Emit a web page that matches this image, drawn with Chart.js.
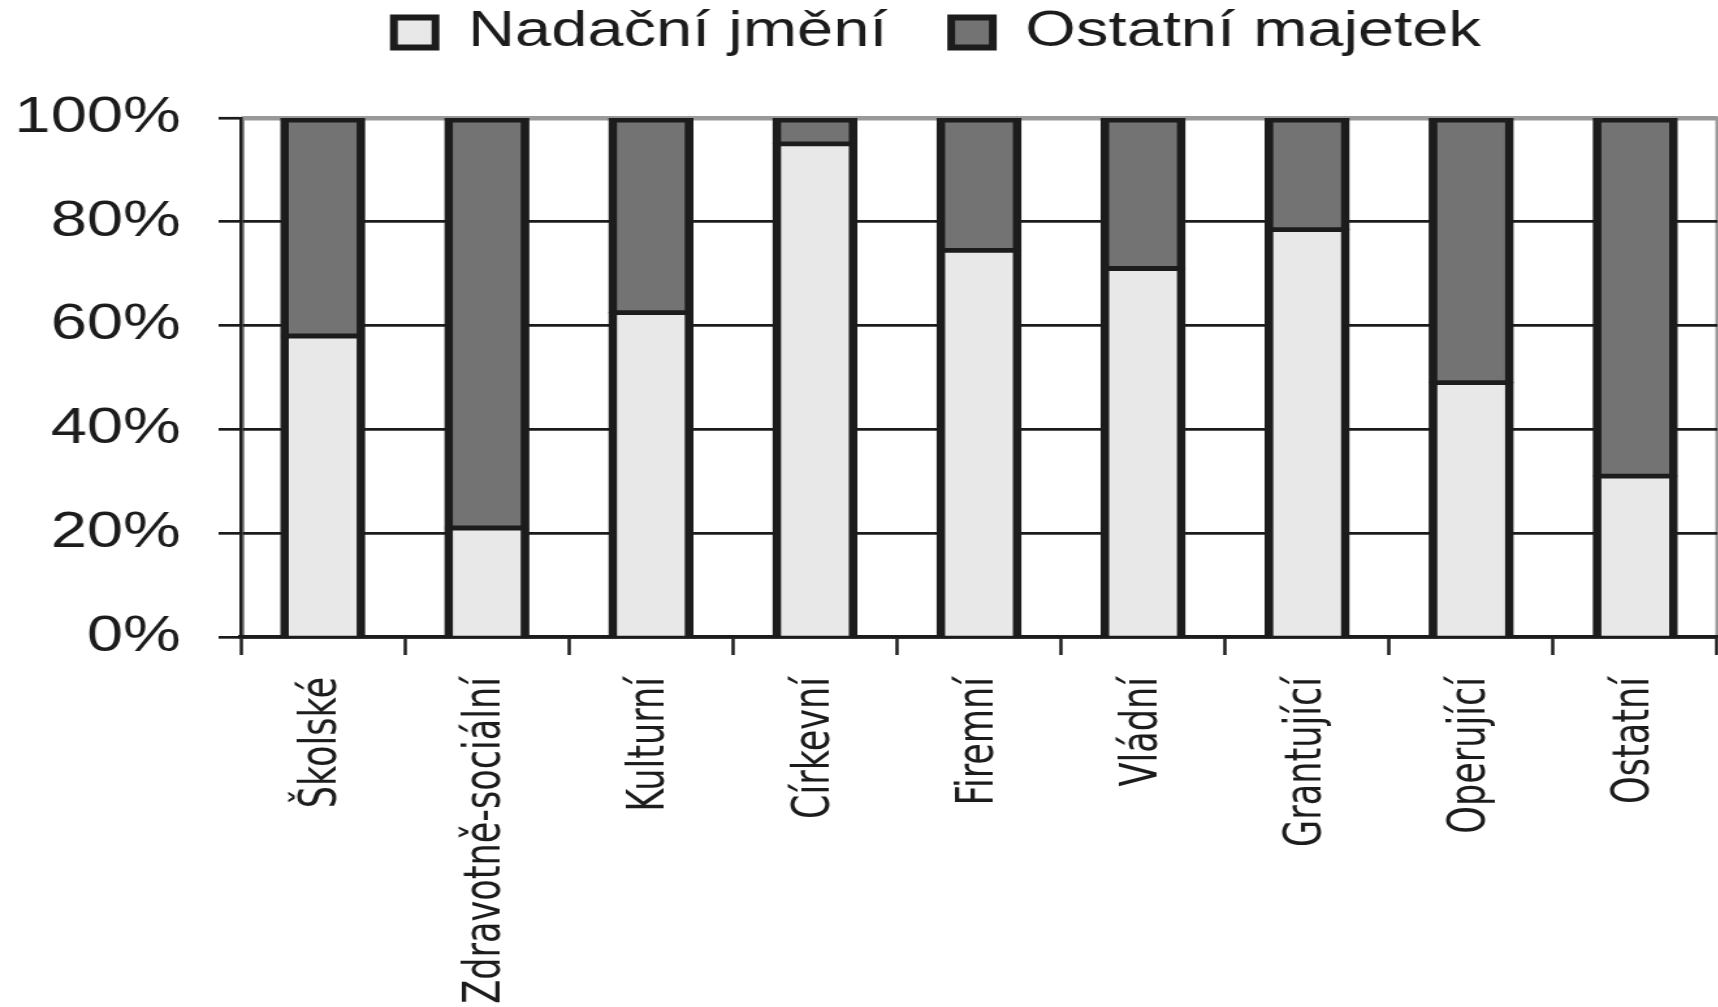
<!DOCTYPE html>
<html lang="cs">
<head>
<meta charset="utf-8">
<title>Nadační jmění a ostatní majetek</title>
<script src="https://cdn.jsdelivr.net/npm/chart.js@4.4.1/dist/chart.umd.min.js"></script>
<style>
  html, body { margin: 0; padding: 0; background: #fff; overflow: hidden; }
  /* the original image is stretched horizontally, so the chart is drawn narrower and scaled out */
  #wrap {
    position: absolute; left: 0; top: 0;
    height: 1007px;
    transform-origin: 0 0;
  }
</style>
</head>
<body>
<div id="wrap"><canvas id="assets-chart"></canvas></div>
<script>
const STRETCH = 1.3;

const categories = [
  "Školské", "Zdravotně-sociální", "Kulturní", "Církevní", "Firemní",
  "Vládní", "Grantující", "Operující", "Ostatní",
];
const endowment = [58, 21, 62.5, 95, 74.5, 71, 78.5, 49, 31];      // Nadační jmění
const otherAssets = [42, 79, 37.5, 5, 25.5, 29, 21.5, 51, 69];     // Ostatní majetek
const yTicks = [0, 20, 40, 60, 80, 100];

const INK = "#1c1c1c";
const FRAME = "#999999";
const FONT = "'Liberation Sans', Arial, sans-serif";
const NARROW = "'DejaVu Sans Condensed', 'Liberation Sans Narrow', sans-serif";

// legend band above the plot, and where the legend row sits inside it
const LEGEND_BAND = 118;
const LEGEND_DX = -32;
const LEGEND_DY = -41.5;

const plotFrame = {
  id: "plotFrame",
  beforeDraw(chart) {
    const { ctx, chartArea: a } = chart;
    ctx.save();
    ctx.strokeStyle = FRAME;
    ctx.lineWidth = 3;
    ctx.strokeRect(a.left + 1.5, a.top, a.right - a.left - 1.5, a.bottom - a.top);
    ctx.restore();
  },
};

const legendPlacement = {
  id: "legendPlacement",
  beforeInit(chart) {
    const fit = chart.legend.fit;
    chart.legend.fit = function () {
      fit.call(this);
      this.height = LEGEND_BAND;
    };
  },
  afterLayout(chart) {
    const l = chart.legend;
    l.left += LEGEND_DX; l.right += LEGEND_DX;
    l.top += LEGEND_DY; l.bottom += LEGEND_DY;
  },
};

document.addEventListener("DOMContentLoaded", () => {
  const wrap = document.getElementById("wrap");
  wrap.style.width = (1718 / STRETCH) + "px";
  wrap.style.transform = `scaleX(${STRETCH})`;

  const sideW = 6.7;
  new Chart(document.getElementById("assets-chart"), {
    type: "bar",
    data: {
      labels: categories,
      datasets: [
        {
          label: "Nadační jmění",
          data: endowment,
          backgroundColor: "#e8e8e8",
          borderColor: INK,
          borderWidth: { left: sideW, right: sideW, top: 3, bottom: 0 },
          borderSkipped: false,
          inflateAmount: 0.6,
        },
        {
          label: "Ostatní majetek",
          data: otherAssets,
          backgroundColor: "#737373",
          borderColor: INK,
          borderWidth: { left: sideW, right: sideW, top: 5, bottom: 3 },
          borderSkipped: false,
          inflateAmount: 0.6,
        },
      ],
    },
    options: {
      responsive: true,
      maintainAspectRatio: false,
      animation: false,
      datasets: { bar: { barPercentage: 0.51, categoryPercentage: 1 } },
      layout: { padding: { left: 0, right: 1.5, top: 0, bottom: 0 } },
      plugins: {
        tooltip: { enabled: false },
        legend: {
          position: "top",
          fullSize: false,
          labels: {
            color: INK,
            font: { family: FONT, size: 50 },
            boxWidth: 32,
            boxHeight: 30,
            padding: 49,
            generateLabels(chart) {
              const items = Chart.defaults.plugins.legend.labels.generateLabels(chart);
              items.forEach((it) => { it.lineWidth = 6; it.strokeStyle = INK; });
              return items;
            },
          },
        },
      },
      scales: {
        x: {
          stacked: true,
          offset: true,
          afterFit(scale) {
            scale.height = 370;
            scale.paddingRight = 0;
            scale.paddingLeft = 0;
          },
          border: { display: true, color: INK, width: 3.5 },
          grid: {
            offset: true,
            drawOnChartArea: false,
            drawTicks: true,
            tickLength: 18,
            tickColor: INK,
            tickWidth: 2.5,
          },
          ticks: {
            color: INK,
            font: { family: NARROW, size: 39 },
            maxRotation: 90,
            minRotation: 90,
            padding: 22,
            autoSkip: false,
          },
        },
        y: {
          stacked: true,
          min: 0,
          max: 100,
          afterBuildTicks(scale) {
            scale.ticks = yTicks.map((v) => ({ value: v }));
          },
          afterFit(scale) { scale.width = 185; },
          border: { display: true, color: INK, width: 2.5 },
          grid: {
            color: (c) => (c.tick && c.tick.value === 100 ? FRAME : INK),
            lineWidth: (c) => (c.tick && c.tick.value === 100 ? 4.5 : 2.7),
            tickColor: INK,
            tickWidth: 2.7,
            tickLength: 17,
          },
          ticks: {
            color: INK,
            font: { family: FONT, size: 50 },
            padding: 29,
            callback: (v) => v + "%",
          },
        },
      },
    },
    plugins: [plotFrame, legendPlacement],
  });
});
</script>
</body>
</html>
